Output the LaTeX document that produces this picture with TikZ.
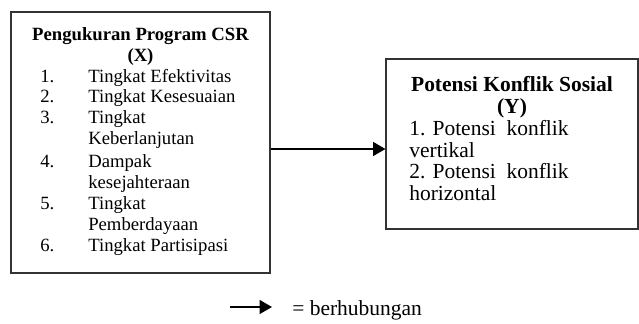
\documentclass[tikz,border=0pt]{standalone}
\usepackage{fontspec}
\setmainfont{Liberation Serif}
\usetikzlibrary{arrows.meta,fit}
\begin{document}
\begin{tikzpicture}[x=0.6423pt,y=-0.6423pt,
  box/.style={draw=black!80,line width=0.7pt,inner sep=0pt},
  txt/.style={inner sep=0pt,anchor=base west,font=\fontsize{12pt}{14pt}\selectfont},
  ttl/.style={inner sep=0pt,anchor=base,font=\fontsize{12pt}{14pt}\selectfont\bfseries},
  rtxt/.style={inner sep=0pt,anchor=base west,font=\fontsize{13.8pt}{16pt}\selectfont},
  rttl/.style={inner sep=0pt,anchor=base,font=\fontsize{13.8pt}{16pt}\selectfont\bfseries},
  conn/.style={line width=1pt,-{Triangle[length=8pt,width=9pt]}}]
\useasboundingbox (0,0) rectangle (639,323);
% boxes
\node[box,fit={(11,12) (270,273)}] (L) {};
\node[box,fit={(386,59) (638,229)}] (R) {};
% left box text
\node[ttl] (lt1) at (140.5,40.5) {Pengukuran Program CSR};
\node[ttl] (lt2) at (140.5,61) {(X)};
\node[txt] (ln1) at (40,82) {1.};
\node[txt] (li1) at (88,82) {Tingkat Efektivitas};
\node[txt] (ln2) at (40,102.5) {2.};
\node[txt] (li2) at (88,102.5) {Tingkat Kesesuaian};
\node[txt] (ln3) at (40,123) {3.};
\node[txt] (li3) at (88,123) {Tingkat};
\node[txt] (li3b) at (88,144) {Keberlanjutan};
\node[txt] (ln4) at (40,167) {4.};
\node[txt] (li4) at (88,167) {Dampak};
\node[txt] (li4b) at (88,188) {kesejahteraan};
\node[txt] (ln5) at (40,209.5) {5.};
\node[txt] (li5) at (88,209.5) {Tingkat};
\node[txt] (li5b) at (88,230) {Pemberdayaan};
\node[txt] (ln6) at (40,251) {6.};
\node[txt] (li6) at (88,251) {Tingkat Partisipasi};
% right box text
\node[rttl] (rt1) at (512,91.7) {Potensi Konflik Sosial};
\node[rttl] (rt2) at (512,113) {(Y)};
\node[rtxt] (ri1) at (409,135) {1. Potensi\ \ konflik};
\node[rtxt] (ri1b) at (409,157) {vertikal};
\node[rtxt] (ri2) at (409,178) {2. Potensi\ \ konflik};
\node[rtxt] (ri2b) at (409,200) {horizontal};
% connector
\coordinate (ay) at (0,149);
\draw[conn] (L.east |- ay) -- (R.west |- ay);
% legend
\coordinate (ls) at (230,307);
\coordinate (le) at (272,307);
\draw[conn] (ls) -- (le);
\node[rtxt] (lg) at (292,315) {= berhubungan};
\end{tikzpicture}
\end{document}
